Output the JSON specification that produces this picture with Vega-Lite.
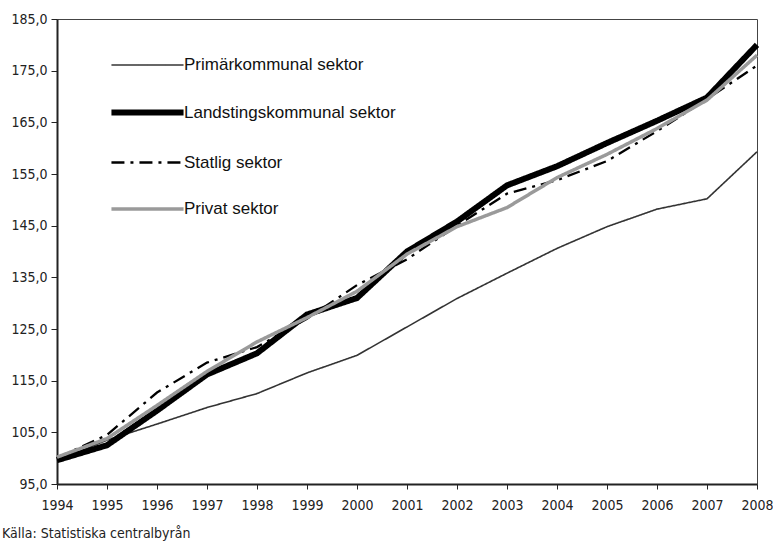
{
  "$schema": "https://vega.github.io/schema/vega-lite/v6.json",
  "width": 700,
  "height": 465,
  "autosize": {"type": "none"},
  "padding": {"left": 57, "top": 19, "right": 16, "bottom": 62},
  "config": {
    "locale": {"number": {"decimal": ",", "thousands": " ", "grouping": [3], "currency": ["", " kr"]}},
    "view": {"stroke": "#444", "strokeWidth": 1},
    "font": "Liberation Sans"
  },
  "title": {
    "text": "Källa: Statistiska centralbyrån",
    "orient": "bottom",
    "anchor": "start",
    "frame": "group",
    "dx": -55,
    "offset": 15,
    "font": "DejaVu Sans Condensed",
    "fontSize": 14,
    "fontWeight": "normal",
    "color": "#222"
  },
  "data": {
    "values": [
      {"year": 1994, "sektor": "Primärkommunal sektor", "v": 99.5},
      {"year": 1995, "sektor": "Primärkommunal sektor", "v": 103.5},
      {"year": 1996, "sektor": "Primärkommunal sektor", "v": 106.6},
      {"year": 1997, "sektor": "Primärkommunal sektor", "v": 109.8},
      {"year": 1998, "sektor": "Primärkommunal sektor", "v": 112.5},
      {"year": 1999, "sektor": "Primärkommunal sektor", "v": 116.5},
      {"year": 2000, "sektor": "Primärkommunal sektor", "v": 119.9},
      {"year": 2001, "sektor": "Primärkommunal sektor", "v": 125.4},
      {"year": 2002, "sektor": "Primärkommunal sektor", "v": 130.9},
      {"year": 2003, "sektor": "Primärkommunal sektor", "v": 135.8},
      {"year": 2004, "sektor": "Primärkommunal sektor", "v": 140.6},
      {"year": 2005, "sektor": "Primärkommunal sektor", "v": 144.8},
      {"year": 2006, "sektor": "Primärkommunal sektor", "v": 148.2},
      {"year": 2007, "sektor": "Primärkommunal sektor", "v": 150.2},
      {"year": 2008, "sektor": "Primärkommunal sektor", "v": 159.3},
      {"year": 1994, "sektor": "Landstingskommunal sektor", "v": 99.6},
      {"year": 1995, "sektor": "Landstingskommunal sektor", "v": 102.5},
      {"year": 1996, "sektor": "Landstingskommunal sektor", "v": 109.2},
      {"year": 1997, "sektor": "Landstingskommunal sektor", "v": 116.2},
      {"year": 1998, "sektor": "Landstingskommunal sektor", "v": 120.3},
      {"year": 1999, "sektor": "Landstingskommunal sektor", "v": 127.8},
      {"year": 2000, "sektor": "Landstingskommunal sektor", "v": 131.0},
      {"year": 2001, "sektor": "Landstingskommunal sektor", "v": 140.0},
      {"year": 2002, "sektor": "Landstingskommunal sektor", "v": 145.8},
      {"year": 2003, "sektor": "Landstingskommunal sektor", "v": 152.8},
      {"year": 2004, "sektor": "Landstingskommunal sektor", "v": 156.5},
      {"year": 2005, "sektor": "Landstingskommunal sektor", "v": 161.0},
      {"year": 2006, "sektor": "Landstingskommunal sektor", "v": 165.3},
      {"year": 2007, "sektor": "Landstingskommunal sektor", "v": 169.8},
      {"year": 2008, "sektor": "Landstingskommunal sektor", "v": 180.0},
      {"year": 1994, "sektor": "Statlig sektor", "v": 100.0},
      {"year": 1995, "sektor": "Statlig sektor", "v": 104.5},
      {"year": 1996, "sektor": "Statlig sektor", "v": 112.7},
      {"year": 1997, "sektor": "Statlig sektor", "v": 118.5},
      {"year": 1998, "sektor": "Statlig sektor", "v": 121.5},
      {"year": 1999, "sektor": "Statlig sektor", "v": 127.0},
      {"year": 2000, "sektor": "Statlig sektor", "v": 133.5},
      {"year": 2001, "sektor": "Statlig sektor", "v": 138.5},
      {"year": 2002, "sektor": "Statlig sektor", "v": 145.0},
      {"year": 2003, "sektor": "Statlig sektor", "v": 151.2},
      {"year": 2004, "sektor": "Statlig sektor", "v": 153.8},
      {"year": 2005, "sektor": "Statlig sektor", "v": 157.5},
      {"year": 2006, "sektor": "Statlig sektor", "v": 163.3},
      {"year": 2007, "sektor": "Statlig sektor", "v": 169.5},
      {"year": 2008, "sektor": "Statlig sektor", "v": 176.0},
      {"year": 1994, "sektor": "Privat sektor", "v": 100.2},
      {"year": 1995, "sektor": "Privat sektor", "v": 103.8},
      {"year": 1996, "sektor": "Privat sektor", "v": 110.2},
      {"year": 1997, "sektor": "Privat sektor", "v": 116.8},
      {"year": 1998, "sektor": "Privat sektor", "v": 122.5},
      {"year": 1999, "sektor": "Privat sektor", "v": 127.2},
      {"year": 2000, "sektor": "Privat sektor", "v": 132.3},
      {"year": 2001, "sektor": "Privat sektor", "v": 139.5},
      {"year": 2002, "sektor": "Privat sektor", "v": 144.8},
      {"year": 2003, "sektor": "Privat sektor", "v": 148.5},
      {"year": 2004, "sektor": "Privat sektor", "v": 154.3},
      {"year": 2005, "sektor": "Privat sektor", "v": 158.8},
      {"year": 2006, "sektor": "Privat sektor", "v": 163.8},
      {"year": 2007, "sektor": "Privat sektor", "v": 169.3},
      {"year": 2008, "sektor": "Privat sektor", "v": 178.0}
    ]
  },
  "mark": {"type": "line", "strokeJoin": "miter", "strokeCap": "butt"},
  "encoding": {
    "x": {
      "field": "year",
      "type": "quantitative",
      "scale": {"domain": [1994, 2008], "nice": false, "zero": false},
      "axis": {
        "title": null,
        "values": [1994, 1995, 1996, 1997, 1998, 1999, 2000, 2001, 2002, 2003, 2004, 2005, 2006, 2007, 2008],
        "format": "d",
        "grid": false,
        "domainColor": "#222",
        "domainWidth": 2,
        "tickColor": "#222",
        "tickSize": 5,
        "labelFont": "DejaVu Sans Condensed",
        "labelFontSize": 14,
        "labelColor": "#222",
        "labelPadding": 9,
        "labelFlush": false
      }
    },
    "y": {
      "field": "v",
      "type": "quantitative",
      "scale": {"domain": [95, 185], "nice": false, "zero": false},
      "axis": {
        "title": null,
        "values": [95, 105, 115, 125, 135, 145, 155, 165, 175, 185],
        "format": ".1f",
        "grid": false,
        "domainColor": "#222",
        "domainWidth": 2,
        "tickColor": "#222",
        "tickSize": 6,
        "labelFont": "DejaVu Sans Condensed",
        "labelFontSize": 14,
        "labelColor": "#222",
        "labelPadding": 4
      }
    },
    "color": {
      "field": "sektor",
      "type": "nominal",
      "sort": ["Primärkommunal sektor", "Landstingskommunal sektor", "Statlig sektor", "Privat sektor"],
      "scale": {
        "domain": ["Primärkommunal sektor", "Landstingskommunal sektor", "Statlig sektor", "Privat sektor"],
        "range": ["#333333", "#000000", "#000000", "#9a9a9a"]
      },
      "legend": {
        "title": null,
        "orient": "none",
        "legendX": 51,
        "legendY": 9,
        "symbolType": "stroke",
        "symbolSize": 5200,
        "labelFont": "Liberation Sans",
        "labelFontSize": 17,
        "labelColor": "#111",
        "labelOffset": -3,
        "labelLimit": 400,
        "rowPadding": -26
      }
    },
    "strokeWidth": {
      "field": "sektor",
      "type": "nominal",
      "sort": ["Primärkommunal sektor", "Landstingskommunal sektor", "Statlig sektor", "Privat sektor"],
      "scale": {
        "type": "ordinal",
        "domain": ["Primärkommunal sektor", "Landstingskommunal sektor", "Statlig sektor", "Privat sektor"],
        "range": [1.6, 6, 2.3, 3.5]
      }
    },
    "strokeDash": {
      "field": "sektor",
      "type": "nominal",
      "sort": ["Primärkommunal sektor", "Landstingskommunal sektor", "Statlig sektor", "Privat sektor"],
      "scale": {
        "domain": ["Primärkommunal sektor", "Landstingskommunal sektor", "Statlig sektor", "Privat sektor"],
        "range": [[1, 0], [1, 0], [13, 6, 3, 6], [1, 0]]
      }
    }
  }
}
